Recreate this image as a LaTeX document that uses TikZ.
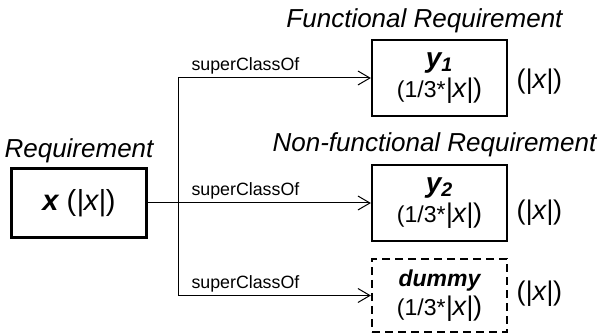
\documentclass[tikz,border=0pt]{standalone}
\usepackage{fontspec}
\setmainfont{Liberation Sans}
\usepackage{tikz}
\usetikzlibrary{positioning, arrows.meta}
\newcommand{\absx}{\textit{|x|}}
\tikzset{
  cls/.style={rectangle, draw, line width=1.1pt, align=center,
              minimum width=67.5pt, minimum height=38pt, inner sep=2pt},
  dcls/.style={cls, dash pattern=on 4pt off 2.5pt, minimum height=36.5pt},
  ttl/.style={font=\fontsize{13}{15}\selectfont\itshape, inner sep=2pt},
  sz/.style={font=\fontsize{13.5}{15}\selectfont, inner sep=2pt},
  rel/.style={font=\fontsize{8.9}{10}\selectfont, inner sep=1.5pt},
  arr/.style={-{Straight Barb[length=6pt, width=7pt]}, line width=0.5pt},
}
\begin{document}
\begin{tikzpicture}[x=0.5pt, y=-0.5pt]
  \useasboundingbox (0,0) rectangle (610,335);
  \node[cls, font=\fontsize{14.5}{16}\selectfont, minimum height=34.5pt] (req) at (79,203)
    {{\bfseries\itshape x} (\absx)};
  \node[ttl, above=0pt of req] (reqt) {Requirement};
  \node[cls] (fr) at (439.5,78)
    {{\fontsize{14}{14}\selectfont\bfseries\itshape y\textsubscript{1}}\\[1.5pt]
     {\fontsize{11.5}{13}\selectfont (1/3*}{\fontsize{13.5}{13}\selectfont\absx)}};
  \node[ttl, above=1pt of fr, xshift=-7.5pt] (frt) {Functional Requirement};
  \node[cls] (nfr) at (439.5,203)
    {{\fontsize{14}{14}\selectfont\bfseries\itshape y\textsubscript{2}}\\[1.5pt]
     {\fontsize{11.5}{13}\selectfont (1/3*}{\fontsize{13.5}{13}\selectfont\absx)}};
  \node[ttl, above=1.5pt of nfr, xshift=-2.5pt] (nfrt) {Non-functional Requirement};
  \node[dcls] (dm) at (439.5,295.5)
    {{\fontsize{11.5}{13}\selectfont\bfseries\itshape dummy}\\[1.5pt]
     {\fontsize{11.5}{13}\selectfont (1/3*}{\fontsize{13.5}{13}\selectfont\absx)}};
  \node[sz, right=2pt of fr, yshift=-2pt] (frs) {(\absx)};
  \node[sz, right=2pt of nfr, yshift=-5pt] (nfrs) {(\absx)};
  \node[sz, right=2pt of dm, yshift=1pt] (dms) {(\absx)};
  % inheritance links
  \coordinate (j) at (178,203);
  \draw[line width=0.5pt] (req.east) -- (j);
  \foreach \c in {fr,nfr,dm}
    \draw[arr] (j) |- node[rel, pos=0.5, anchor=south west, xshift=5pt]{superClassOf} (\c.west);
\end{tikzpicture}
\end{document}
